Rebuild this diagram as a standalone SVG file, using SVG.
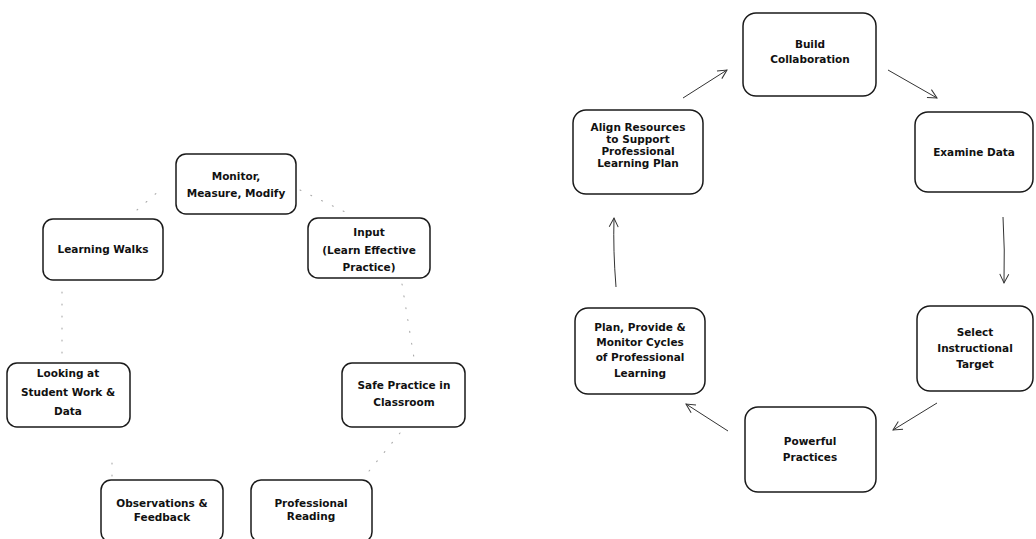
<svg xmlns="http://www.w3.org/2000/svg" width="1036" height="539" viewBox="0 0 1036 539">
<defs>
<style>
.box{fill:#fff;stroke:#1a1a1a;stroke-width:1.5}
.t{font-family:"DejaVu Sans",sans-serif;font-weight:bold;font-size:10.5px;fill:#111;text-anchor:middle}
.arr{fill:none;stroke:#333;stroke-width:1}
.dot{fill:none;stroke:#aaa;stroke-width:1.1;stroke-dasharray:1 11;stroke-linecap:round}
</style>
<marker id="ah" markerWidth="12" markerHeight="12" refX="10" refY="6" orient="auto" markerUnits="userSpaceOnUse">
<path d="M1,1.5 L10,6 L1,10.5" fill="none" stroke="#333" stroke-width="1"/>
</marker>
</defs>
<rect width="1036" height="539" fill="#fff"/>
<g id="connectors">
<path class="dot" d="M137,210 L160,190"/>
<path class="dot" d="M300,190 L345,212"/>
<path class="dot" d="M402,284 L414,358"/>
<path class="dot" d="M400,433 L365,476"/>
<path class="dot" d="M112,463 L112,476"/>
<path class="dot" d="M62,292 L62,358"/>
<path class="arr" marker-end="url(#ah)" d="M683,98 L727,70"/>
<path class="arr" marker-end="url(#ah)" d="M888,70 L937,98"/>
<path class="arr" marker-end="url(#ah)" d="M1003,217 Q1005,250 1004,283"/>
<path class="arr" marker-end="url(#ah)" d="M937,403 L893,430"/>
<path class="arr" marker-end="url(#ah)" d="M728,431 L686,404"/>
<path class="arr" marker-end="url(#ah)" d="M616,287 Q613,250 614,218"/>
</g>
<g id="monitor"><rect class="box" x="176" y="154" width="120" height="60" rx="10"/>
<text class="t" x="236" y="180">Monitor,</text><text class="t" x="236" y="197">Measure, Modify</text></g>
<g id="learning-walks"><rect class="box" x="43" y="219" width="120" height="61" rx="10"/>
<text class="t" x="103" y="253">Learning Walks</text></g>
<g id="input"><rect class="box" x="308" y="218" width="122" height="60" rx="10"/>
<text class="t" x="369" y="236">Input</text><text class="t" x="369" y="254">(Learn Effective</text><text class="t" x="369" y="271">Practice)</text></g>
<g id="looking"><rect class="box" x="7" y="363" width="123" height="64" rx="10"/>
<text class="t" x="68" y="377">Looking at</text><text class="t" x="68" y="396">Student Work &amp;</text><text class="t" x="68" y="415">Data</text></g>
<g id="safe-practice"><rect class="box" x="342" y="363" width="123" height="64" rx="10"/>
<text class="t" x="404" y="389">Safe Practice in</text><text class="t" x="404" y="406">Classroom</text></g>
<g id="observations"><rect class="box" x="101" y="480" width="122" height="62" rx="10"/>
<text class="t" x="162" y="507">Observations &amp;</text><text class="t" x="162" y="521">Feedback</text></g>
<g id="professional-reading"><rect class="box" x="251" y="480" width="121" height="62" rx="10"/>
<text class="t" x="311" y="507">Professional</text><text class="t" x="311" y="520">Reading</text></g>
<g id="build"><rect class="box" x="743" y="13" width="133" height="83" rx="13"/>
<text class="t" x="810" y="48">Build</text><text class="t" x="810" y="63">Collaboration</text></g>
<g id="examine"><rect class="box" x="915" y="112" width="118" height="80" rx="13"/>
<text class="t" x="974" y="156">Examine Data</text></g>
<g id="select"><rect class="box" x="917" y="306" width="116" height="85" rx="13"/>
<text class="t" x="975" y="336">Select</text><text class="t" x="975" y="352">Instructional</text><text class="t" x="975" y="368">Target</text></g>
<g id="powerful"><rect class="box" x="745" y="407" width="131" height="85" rx="13"/>
<text class="t" x="810" y="445">Powerful</text><text class="t" x="810" y="461">Practices</text></g>
<g id="plan"><rect class="box" x="575" y="308" width="130" height="86" rx="13"/>
<text class="t" x="640" y="331">Plan, Provide &amp;</text><text class="t" x="640" y="346">Monitor Cycles</text><text class="t" x="640" y="361">of Professional</text><text class="t" x="640" y="377">Learning</text></g>
<g id="align"><rect class="box" x="573" y="110" width="130" height="84" rx="13"/>
<text class="t" x="638" y="131">Align Resources</text><text class="t" x="638" y="143">to Support</text><text class="t" x="638" y="155">Professional</text><text class="t" x="638" y="167">Learning Plan</text></g>
</svg>
